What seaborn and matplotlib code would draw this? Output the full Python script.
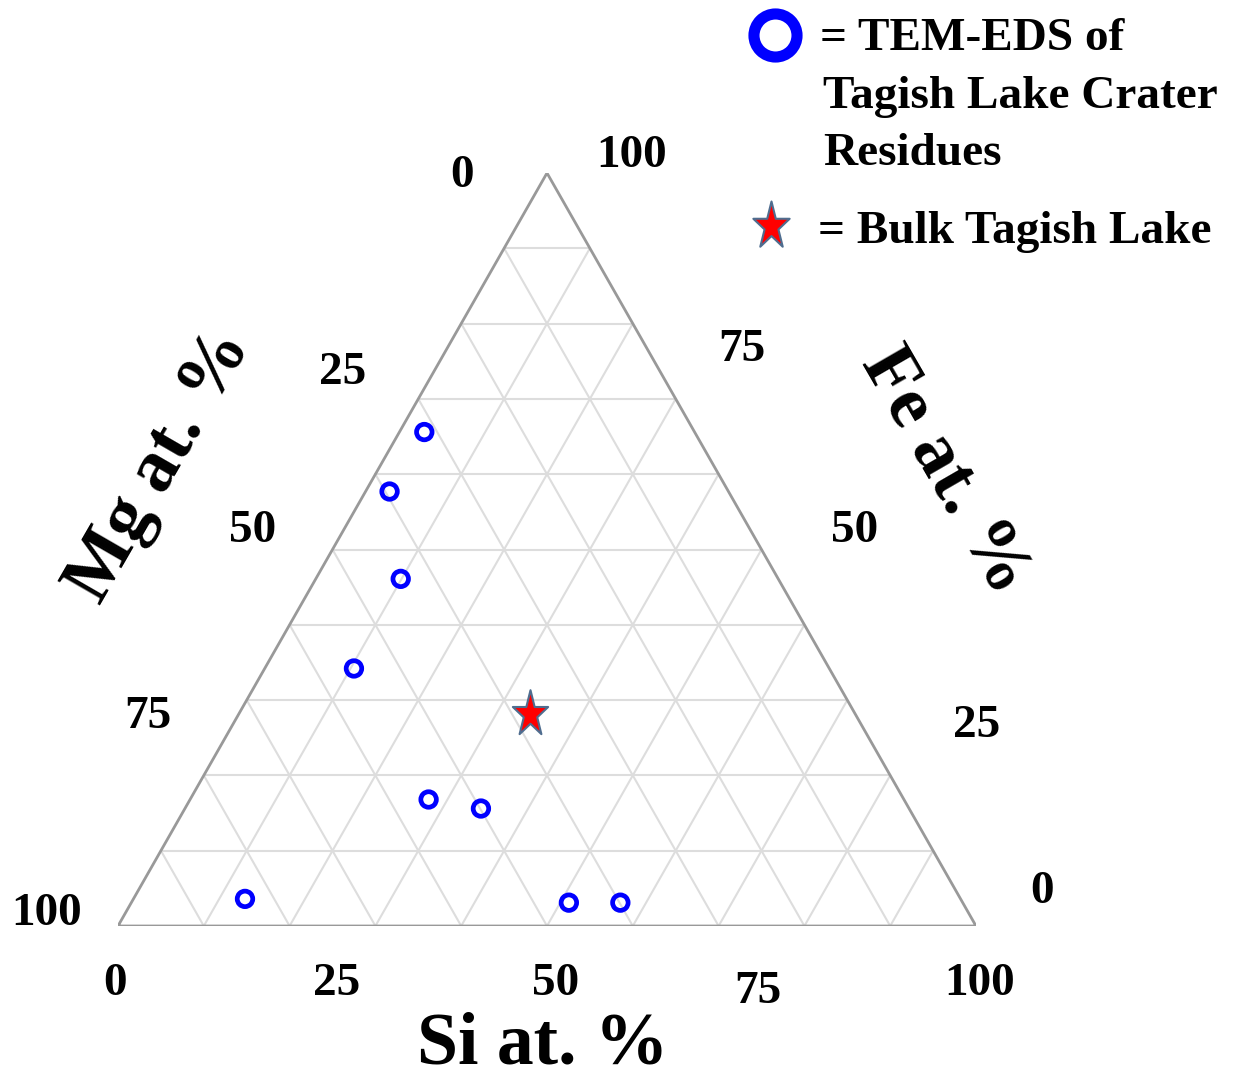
import numpy as np
import pandas as pd
import matplotlib
matplotlib.use("Agg")
import matplotlib.pyplot as plt
from matplotlib.lines import Line2D
from matplotlib.path import Path
import seaborn as sns

# Composition data (at. %)
tem_si = [2.9, 2.8, 9.9, 10.4, 27.8, 34.5, 13.0, 51.0, 57.0]
tem_fe = [65.6, 57.7, 46.1, 34.2, 16.8, 15.6, 3.6, 3.1, 3.1]
tem_mg = [31.5, 39.5, 44.0, 55.4, 55.4, 49.9, 83.4, 45.9, 39.9]

bulk_si = [34.0]
bulk_fe = [28.1]
bulk_mg = [37.9]

tick_values = [0, 25, 50, 75, 100]
grid_values = np.arange(10, 100, 10)

sns.set_theme(style="white")
plt.rcParams["font.family"] = ["Liberation Serif", "DejaVu Serif"]
plt.rcParams["font.weight"] = "bold"
plt.rcParams["text.color"] = "black"

W, H = 1234, 1080
fig = plt.figure(figsize=(W / 100, H / 100), dpi=100)
ax = fig.add_axes([118 / W, 154 / H, 858 / W, 753 / H])
ax.set_xlim(0, 1)
ax.set_ylim(0, 1)
ax.axis("off")


def tern(si, fe):
    si = np.asarray(si, dtype=float) / 100.0
    fe = np.asarray(fe, dtype=float) / 100.0
    return si + fe / 2.0, fe


# tall five-pointed star marker (pentagram style)
ang = np.pi / 2 + np.arange(10) * np.pi / 5
rad = np.where(np.arange(10) % 2 == 0, 1.0, 0.382)
star_xy = np.column_stack([rad * np.cos(ang), 1.31 * rad * np.sin(ang)])
star_xy = np.vstack([star_xy, star_xy[:1]])
star_marker = Path(star_xy, closed=True)

# grid lines for each component
grid_kw = dict(color="#dddddd", lw=1.5, zorder=1)
for g in grid_values:
    # constant Fe
    x, y = tern([0, 100 - g], [g, g])
    ax.plot(x, y, **grid_kw)
    # constant Si
    x, y = tern([g, g], [0, 100 - g])
    ax.plot(x, y, **grid_kw)
    # constant Mg (Si + Fe = 100 - g)
    x, y = tern([100 - g, 0], [0, 100 - g])
    ax.plot(x, y, **grid_kw)

# triangle border
bx, by = tern([0, 100, 0, 0], [0, 0, 100, 0])
ax.plot(bx, by, color="#999999", lw=2, zorder=2, solid_joinstyle="miter")

# data points
tx, ty = tern(tem_si, tem_fe)
df_tem = pd.DataFrame({"x": tx, "y": ty})
sns.scatterplot(data=df_tem, x="x", y="y", ax=ax, marker="o", s=125,
                facecolor="none", edgecolor="#0000ff", linewidth=3.4,
                zorder=5, legend=False)

sx, sy = tern(bulk_si, bulk_fe)
df_bulk = pd.DataFrame({"x": sx, "y": sy})
sns.scatterplot(data=df_bulk, x="x", y="y", ax=ax, marker=star_marker,
                s=1225, color="#ff0000", edgecolor="#4f6d8f", linewidth=1.5,
                zorder=6, legend=False)

# tick labels (pixel offsets from the tick position on each edge)
si_off = [(-3, -58), (4, -58), (9, -58), (-4, -66), (4, -58)]
mg_off = [(-85, -3), (-97, -12), (-80, 19), (-77, 21), (-71, 12)]
fe_off = [(66, 34), (108, 12), (93, 18), (88, 11), (85, 17)]
tick_kw = dict(textcoords="offset pixels", ha="center", va="center",
               fontsize=34, fontweight="bold", color="black",
               annotation_clip=False)
for i, v in enumerate(tick_values):
    # Si along bottom edge
    x, y = tern([v], [0])
    ax.annotate(str(v), (x[0], y[0]), xytext=si_off[i], **tick_kw)
    # Mg along left edge
    x, y = tern([0], [100 - v])
    ax.annotate(str(v), (x[0], y[0]), xytext=mg_off[i], **tick_kw)
    # Fe along right edge
    x, y = tern([100 - v], [v])
    ax.annotate(str(v), (x[0], y[0]), xytext=fe_off[i], **tick_kw)

# axis titles
fig.text(543 / W, 1 - 1063 / H, "Si at. %", ha="center", va="baseline",
         fontsize=53, fontweight="bold")
fig.text(160 / W, 1 - 466 / H, "Mg at. %", ha="center", va="center",
         fontsize=54, fontweight="bold", rotation=60,
         rotation_mode="anchor")
fig.text(944 / W, 1 - 472 / H, "Fe at. %", ha="center", va="center",
         fontsize=54, fontweight="bold", rotation=-60,
         rotation_mode="anchor")

# key
fig.add_artist(Line2D([775 / W], [1 - 35 / H], transform=fig.transFigure,
                      marker="o", ms=31, mfc="none", mec="#0000ff", mew=8))
fig.add_artist(Line2D([771 / W], [1 - 226 / H], transform=fig.transFigure,
                      marker=star_marker, ms=36, mfc="#ff0000",
                      mec="#4f6d8f", mew=1.5))
key_kw = dict(ha="left", va="center", fontsize=34, fontweight="bold")
fig.text(820 / W, 1 - 39 / H, "= TEM-EDS of", **key_kw)
fig.text(823 / W, 1 - 97 / H, "Tagish Lake Crater", **key_kw)
fig.text(823 / W, 1 - 154 / H, "Residues", **key_kw)
fig.text(818 / W, 1 - 232 / H, "= Bulk Tagish Lake", **key_kw)

fig.savefig("out.png", dpi=100, facecolor="white")
